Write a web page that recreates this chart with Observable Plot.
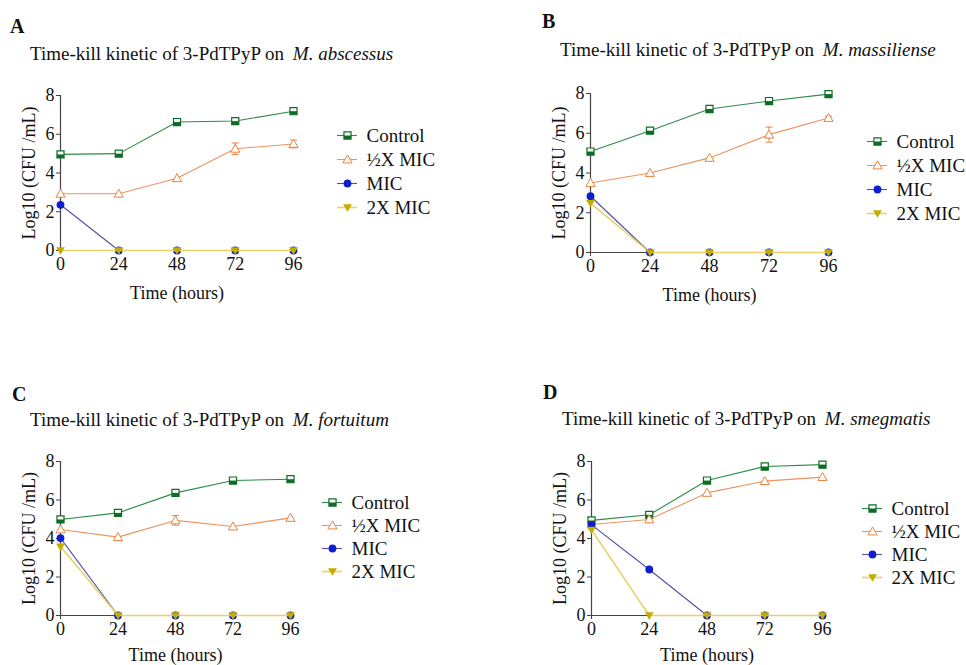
<!DOCTYPE html>
<html>
<head>
<meta charset="utf-8">
<script src="https://cdn.jsdelivr.net/npm/d3@7"></script>
<script src="https://cdn.jsdelivr.net/npm/@observablehq/plot@0.6"></script>
<style>
  html, body { margin: 0; padding: 0; background: #fff; }
  #root { position: relative; width: 966px; height: 665px; overflow: hidden; font-family: "Liberation Serif", "Times New Roman", serif; color: #111; }
  #root svg { overflow: visible; background: none; }
  .abs { position: absolute; white-space: nowrap; line-height: 1; }
  .letter { font-weight: bold; font-size: 20px; }
  .title { font-size: 19px; }
  .title i { margin-left: 4px; }
</style>
</head>
<body>
<div id="root"></div>
<script>
// ---------- data ----------
const TIMES = [0, 24, 48, 72, 96];
const SERIES = ["Control", "½X MIC", "MIC", "2X MIC"];
const Y_TICKS = [0, 2, 4, 6, 8];
const X_LABEL = "Time (hours)";
const Y_LABEL = "Log10 (CFU /mL)";

const A_CONTROL = [4.96, 5.0, 6.63, 6.68, 7.19];
const A_HALF = [2.93, 2.93, 3.73, 5.25, 5.5];
const A_HALF_ERR = [0, 0, 0, 0.3, 0.2];
const A_MIC = [2.36, 0, 0, 0, 0];
const A_2X = [0, 0, 0, 0, 0];

const B_CONTROL = [5.08, 6.13, 7.22, 7.62, 7.97];
const B_HALF = [3.5, 4.0, 4.76, 5.93, 6.77];
const B_HALF_ERR = [0, 0, 0, 0.38, 0.08];
const B_MIC = [2.83, 0, 0, 0, 0];
const B_2X = [2.49, 0, 0, 0, 0];

const C_CONTROL = [4.99, 5.33, 6.37, 7.01, 7.08];
const C_HALF = [4.47, 4.07, 4.94, 4.62, 5.07];
const C_HALF_ERR = [0, 0, 0.25, 0, 0];
const C_MIC = [4.02, 0, 0, 0, 0];
const C_2X = [3.58, 0, 0, 0, 0];

const D_CONTROL = [4.94, 5.23, 7.01, 7.74, 7.84];
const D_HALF = [4.73, 4.99, 6.37, 6.98, 7.19];
const D_HALF_ERR = [0, 0, 0, 0, 0];
const D_MIC = [4.71, 2.39, 0, 0, 0];
const D_2X = [4.45, 0, 0, 0, 0];

const ORGANISMS = ["M. abscessus", "M. massiliense", "M. fortuitum", "M. smegmatis"];
const LETTERS = ["A", "B", "C", "D"];

// ---------- styles ----------
const FONT = "'Liberation Serif', 'Times New Roman', serif";
const LINE_COLORS = {"Control": "#2e8b47", "½X MIC": "#ea9460", "MIC": "#4f4fa6", "2X MIC": "#e6d26a"};
const MARK_COLORS = {"Control": "#0c6e24", "½X MIC": "#e8843f", "MIC": "#0b1fcf", "2X MIC": "#c2ad00"};

// custom symbols
const halfSquare = { draw(ctx, size) { const s = Math.sqrt(size); ctx.rect(-s / 2, 0, s, s / 2); } };
const downTri = { draw(ctx, size) { const s = Math.sqrt(size) * 1.05;
  ctx.moveTo(-s * 0.6, -s * 0.42); ctx.lineTo(s * 0.6, -s * 0.42); ctx.lineTo(0, s * 0.58); ctx.closePath(); } };
const upTri = { draw(ctx, size) { const s = Math.sqrt(size) * 1.05;
  ctx.moveTo(-s * 0.6, s * 0.45); ctx.lineTo(s * 0.6, s * 0.45); ctx.lineTo(0, -s * 0.6); ctx.closePath(); } };
const capSym = { draw(ctx, size) { const s = Math.sqrt(size); ctx.moveTo(-s / 2, 0); ctx.lineTo(s / 2, 0); } };

function rowsOf(vals, errs) {
  return TIMES.map((t, i) => ({t, v: vals[i], e: errs ? errs[i] : 0}));
}

function markerMarks(name, data, x, y) {
  const mc = MARK_COLORS[name];
  if (name === "Control") return [
    Plot.dot(data, {x, y, symbol: "square", r: 4, fill: "white", stroke: mc, strokeWidth: 1.2}),
    Plot.dot(data, {x, y, symbol: halfSquare, r: 4, fill: mc, stroke: "none"})
  ];
  if (name === "½X MIC") return [Plot.dot(data, {x, y, symbol: upTri, r: 4.1, fill: "white", stroke: mc, strokeWidth: 1})];
  if (name === "MIC") return [Plot.dot(data, {x, y, symbol: "circle", r: 3.9, fill: mc, stroke: "none"})];
  return [Plot.dot(data, {x, y, symbol: downTri, r: 4, fill: mc, stroke: "none"})];
}

function seriesMarks(name, rows) {
  const lc = LINE_COLORS[name], mc = MARK_COLORS[name];
  const marks = [Plot.line(rows, {x: "t", y: "v", stroke: lc, strokeWidth: name === "2X MIC" ? 1.6 : 1.1})];
  if (name === "½X MIC") {
    const er = rows.filter(d => d.e > 0);
    marks.push(Plot.ruleX(er, {x: "t", y1: d => d.v - d.e, y2: d => d.v + d.e, stroke: mc, strokeWidth: 1}));
    marks.push(Plot.dot(er, {x: "t", y: d => d.v + d.e, symbol: capSym, r: 4, fill: "none", stroke: mc, strokeWidth: 1}));
    marks.push(Plot.dot(er, {x: "t", y: d => d.v - d.e, symbol: capSym, r: 4, fill: "none", stroke: mc, strokeWidth: 1}));
  }
  marks.push(...markerMarks(name, rows, "t", "v"));
  return marks;
}

const root = document.getElementById("root");

function serifize(svg, size) {
  svg.setAttribute("font-family", FONT);
  svg.setAttribute("font-size", size);
  svg.style.setProperty("font-family", FONT, "important");
  svg.querySelectorAll("text, tspan, g").forEach(el => {
    el.setAttribute("font-family", FONT);
    el.style.setProperty("font-family", FONT, "important");
  });
}

function addText(cls, html, left, top) {
  const d = document.createElement("div");
  d.className = "abs " + cls;
  d.innerHTML = html;
  d.style.left = left + "px";
  d.style.top = top + "px";
  root.appendChild(d);
}

function panel(cfg) {
  const ML = 52, MR = 14, MT = 12, MB = 56;
  const w = cfg.fx1 - cfg.fx0, h = cfg.fy1 - cfg.fy0;
  const chart = Plot.plot({
    width: w + ML + MR, height: h + MT + MB,
    marginLeft: ML, marginRight: MR, marginTop: MT, marginBottom: MB,
    x: {domain: [0, 96]},
    y: {domain: [0, 8]},
    marks: [
      Plot.axisX({ticks: TIMES, tickSize: 4, tickPadding: 3, label: X_LABEL, labelAnchor: "center", labelArrow: "none",
        labelOffset: cfg.xLabOff || 48, stroke: "#444", fontSize: 18, fontFamily: FONT, fill: "#111"}),
      Plot.axisY({ticks: Y_TICKS, tickSize: 4, tickPadding: 2, label: Y_LABEL, labelAnchor: "center", labelArrow: "none",
        labelOffset: 38, stroke: "#444", fontSize: 18, fontFamily: FONT, fill: "#111"}),
      Plot.ruleX([0], {y1: 0, y2: 8, stroke: "#444", strokeWidth: 1.2}),
      Plot.ruleY([0], {x1: 0, x2: 96, stroke: "#444", strokeWidth: 1.2}),
      ...seriesMarks("Control", rowsOf(cfg.control)),
      ...seriesMarks("½X MIC", rowsOf(cfg.half, cfg.halfErr)),
      ...seriesMarks("MIC", rowsOf(cfg.mic)),
      ...seriesMarks("2X MIC", rowsOf(cfg.x2))
    ]
  });
  serifize(chart, 18);
  chart.style.position = "absolute";
  chart.style.left = (cfg.fx0 - ML) + "px";
  chart.style.top = (cfg.fy0 - MT) + "px";
  root.appendChild(chart);

  // legend drawn with Plot
  const span = cfg.rows[1] - cfg.rows[0];
  const lg = Plot.plot({
    width: 150, height: span + 28, margin: 0,
    x: {domain: [0, 1], range: [2, 22], axis: null},
    y: {type: "point", domain: SERIES, range: [14, 14 + span], padding: 0, axis: null},
    marks: SERIES.flatMap(s => {
      const d = [{s}];
      return [
        Plot.ruleY(d, {y: "s", x1: 0, x2: 1, stroke: LINE_COLORS[s], strokeWidth: s === "2X MIC" ? 1.6 : 1.1}),
        ...markerMarks(s, d, 0.5, "s"),
        Plot.text(d, {x: 1, y: "s", text: "s", textAnchor: "start", dx: 9, fontSize: 19, fontFamily: FONT, fill: "#111"})
      ];
    })
  });
  serifize(lg, 19);
  lg.style.position = "absolute";
  lg.style.left = (cfg.legX - 12) + "px";
  lg.style.top = (cfg.rows[0] - 14) + "px";
  root.appendChild(lg);

  addText("letter", cfg.letter, cfg.letterX, cfg.letterBase - 16);
  addText("title", "Time-kill kinetic of 3-PdTPyP on <i>" + cfg.org + "</i>", cfg.titleX, cfg.titleBase - 15);
}

panel({letter: LETTERS[0], org: ORGANISMS[0], letterX: 10, letterBase: 32, titleX: 30, titleBase: 59,
  fx0: 60, fx1: 293, fy0: 95, fy1: 250, legX: 347, rows: [134, 207],
  control: A_CONTROL, half: A_HALF, halfErr: A_HALF_ERR, mic: A_MIC, x2: A_2X});
panel({letter: LETTERS[1], org: ORGANISMS[1], letterX: 542, letterBase: 27, titleX: 560, titleBase: 55,
  fx0: 590, fx1: 828, fy0: 93, fy1: 252, legX: 877, rows: [140, 213],
  control: B_CONTROL, half: B_HALF, halfErr: B_HALF_ERR, mic: B_MIC, x2: B_2X});
panel({letter: LETTERS[2], org: ORGANISMS[2], letterX: 12, letterBase: 400, titleX: 30, titleBase: 425,
  fx0: 60, fx1: 290, fy0: 461, fy1: 615, legX: 332, rows: [501, 572], xLabOff: 45,
  control: C_CONTROL, half: C_HALF, halfErr: C_HALF_ERR, mic: C_MIC, x2: C_2X});
panel({letter: LETTERS[3], org: ORGANISMS[3], letterX: 543, letterBase: 398, titleX: 562, titleBase: 424,
  fx0: 591, fx1: 822, fy0: 461, fy1: 615, legX: 872, rows: [507, 578], xLabOff: 45,
  control: D_CONTROL, half: D_HALF, halfErr: D_HALF_ERR, mic: D_MIC, x2: D_2X});
</script>
</body>
</html>
